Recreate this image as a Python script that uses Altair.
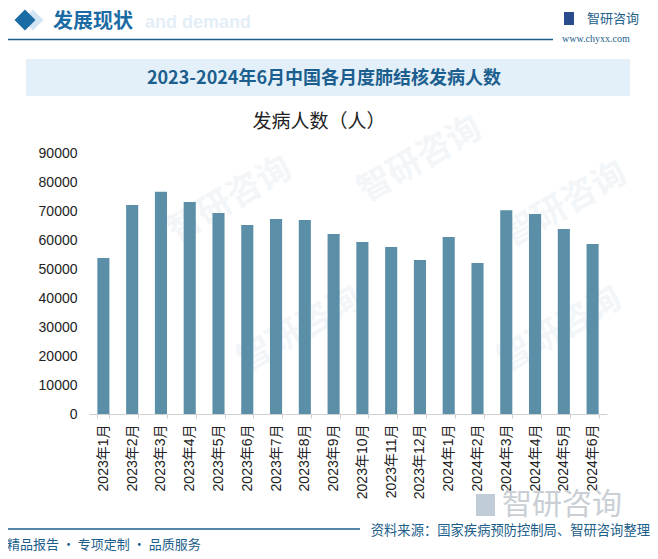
import altair as alt
import pandas as pd

months = ["2023年1月", "2023年2月", "2023年3月", "2023年4月", "2023年5月", "2023年6月",
          "2023年7月", "2023年8月", "2023年9月", "2023年10月", "2023年11月", "2023年12月",
          "2024年1月", "2024年2月", "2024年3月", "2024年4月", "2024年5月", "2024年6月"]
values = [53800, 72100, 76600, 73100, 69300, 65200, 67200, 66900, 62100, 59300,
          57600, 53100, 61000, 52100, 70300, 69000, 63800, 58600]
y_ticks = [0, 10000, 20000, 30000, 40000, 50000, 60000, 70000, 80000, 90000]

title_text = "2023-2024年6月中国各月度肺结核发病人数"
subtitle_text = "发病人数（人）"
header_text = "发展现状"
source_text = "资料来源：国家疾病预防控制局、智研咨询整理"
slogan_text = "精品报告 · 专项定制 · 品质服务"

df = pd.DataFrame({"month": months, "value": values})

# plot origin on screen: (89, 153)
OX, OY = 89, 153
def px(x):
    return x - OX
def py(y):
    return y - OY

CJK = "Noto Sans CJK SC"
LAT = "Liberation Sans, Noto Sans CJK SC"
DARK = "#1B5E8A"

one = alt.Chart(pd.DataFrame({"k": [0]}))
base = alt.Chart(df)

layers = []

# faint watermarks
wm_pos = [(230, 200), (420, 160), (565, 205), (300, 330), (560, 330)]
for (wx, wy) in wm_pos:
    layers.append(one.mark_text(text="智研咨询", font=CJK, fontSize=34, fontWeight="bold",
                                color="#f3f6f9", angle=330).encode(
        x=alt.value(px(wx)), y=alt.value(py(wy))))

# header
layers.append(one.mark_text(text="and demand", font="Liberation Sans", fontSize=18,
                            fontWeight="bold", color="#e4eef7", align="left", baseline="middle").encode(
    x=alt.value(px(145)), y=alt.value(py(23))))
layers.append(one.mark_point(shape="diamond", filled=True, size=441, color="#d3e5f3", opacity=1).encode(
    x=alt.value(px(33)), y=alt.value(py(20))))
layers.append(one.mark_point(shape="diamond", filled=True, size=441, color="#1B6BA5", opacity=1).encode(
    x=alt.value(px(25)), y=alt.value(py(20))))
layers.append(one.mark_text(text=header_text, font=CJK, fontSize=20, fontWeight="bold",
                            color="#1B6BA5", align="left", baseline="middle").encode(
    x=alt.value(px(53)), y=alt.value(py(22))))
layers.append(one.mark_rule(color=DARK, strokeWidth=1.5).encode(
    x=alt.value(px(7)), x2=alt.value(px(553)), y=alt.value(py(39.5))))
# logo
layers.append(one.mark_rect(color="#2A4C8C").encode(
    x=alt.value(px(564)), x2=alt.value(px(574)), y=alt.value(py(12)), y2=alt.value(py(25))))
layers.append(one.mark_text(text="智研咨询", font=CJK, fontSize=13, color=DARK,
                            align="left", baseline="middle").encode(
    x=alt.value(px(587)), y=alt.value(py(18.5))))
layers.append(one.mark_text(text="www.chyxx.com", font="Liberation Serif", fontSize=10, color=DARK,
                            align="left", baseline="middle").encode(
    x=alt.value(px(562)), y=alt.value(py(38.5))))

# title banner
layers.append(one.mark_rect(color="#E3F0F9").encode(
    x=alt.value(px(26)), x2=alt.value(px(630)), y=alt.value(py(59)), y2=alt.value(py(96))))
layers.append(one.mark_text(text=title_text, font=CJK, fontSize=18, fontWeight="bold",
                            color="#1C5F8E", align="center", baseline="middle").encode(
    x=alt.value(px(324)), y=alt.value(py(79))))
layers.append(one.mark_text(text=subtitle_text, font=CJK, fontSize=19, color="#222222",
                            align="center", baseline="middle").encode(
    x=alt.value(px(319)), y=alt.value(py(122))))

# bars
bars = base.mark_bar(color="#5B8FA8").encode(
    x=alt.X("month:N", sort=months,
            scale=alt.Scale(paddingInner=0.58, paddingOuter=0.29),
            axis=alt.Axis(title=None, labelAngle=270, labelFont=LAT, labelFontSize=14,
                          labelColor="#222222", labelPadding=6, domainColor="#d0d0d0",
                          tickColor="#d0d0d0", tickSize=4, tickBand="extent",
                          labelAlign="right", labelBaseline="middle")),
    y=alt.Y("value:Q", scale=alt.Scale(domain=[0, 90000], nice=False),
            axis=alt.Axis(title=None, values=y_ticks, domain=False, ticks=False, grid=False,
                          labelFont="Liberation Sans", labelFontSize=14, labelColor="#222222",
                          labelPadding=12, format="d")),
)
layers.append(bars)

# footer
layers.append(one.mark_text(text="智研咨询", font=CJK, fontSize=30, color="#c9cfd5",
                            align="left", baseline="middle").encode(
    x=alt.value(px(502)), y=alt.value(py(505))))
layers.append(one.mark_rect(color="#c0ccd8").encode(
    x=alt.value(px(476)), x2=alt.value(px(495)), y=alt.value(py(494)), y2=alt.value(py(516))))
layers.append(one.mark_rule(color=DARK, strokeWidth=1.5).encode(
    x=alt.value(px(6)), x2=alt.value(px(360)), y=alt.value(py(529))))
layers.append(one.mark_text(text=source_text, font=CJK, fontSize=13.3, color=DARK,
                            align="right", baseline="middle").encode(
    x=alt.value(px(650)), y=alt.value(py(531))))
layers.append(one.mark_text(text=slogan_text, font=CJK, fontSize=13, color=DARK,
                            align="left", baseline="middle").encode(
    x=alt.value(px(7)), y=alt.value(py(545))))

chart = alt.layer(*layers).properties(
    width=518, height=261,
    padding={"left": 81, "top": 145, "right": 43, "bottom": 145},
    autosize=alt.AutoSizeParams(type="none"),
    background="white",
).configure_view(stroke=None)

chart.save("out.html", embed_options={"renderer": "svg", "actions": False})
